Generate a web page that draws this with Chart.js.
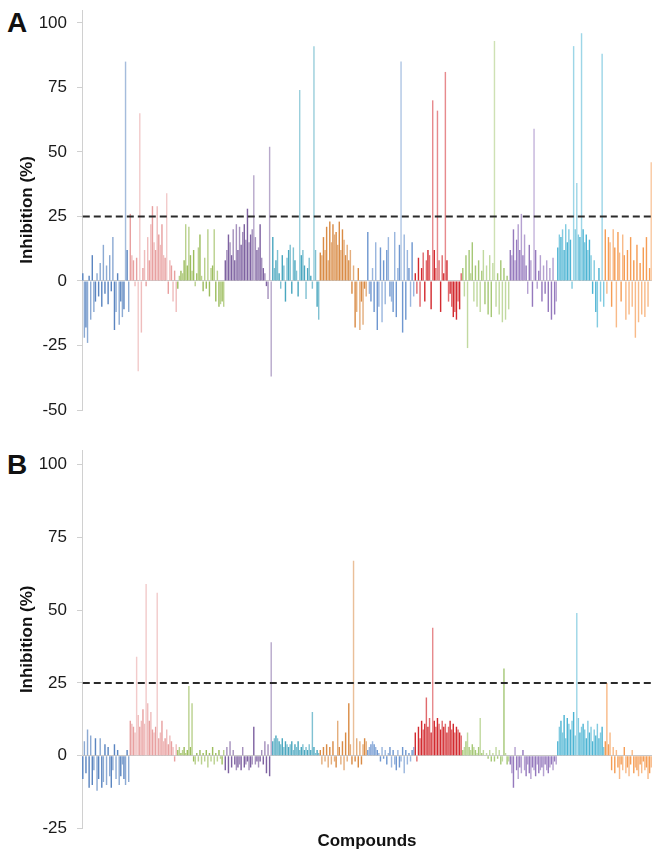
<!DOCTYPE html>
<html><head><meta charset="utf-8">
<script src="https://cdn.jsdelivr.net/npm/chart.js@4/dist/chart.umd.min.js"></script>
<style>
html,body{margin:0;padding:0;background:#fff;width:658px;height:859px;overflow:hidden;font-family:"Liberation Sans",Arial,sans-serif}
.wrap{position:absolute;left:0;width:658px}
.panel{position:absolute;font-weight:bold;font-size:28px;line-height:28px;color:#111;font-family:"Liberation Sans",Arial,sans-serif}
</style></head>
<body>
<div class="panel" style="left:7px;top:9px">A</div>
<div class="panel" style="left:7px;top:451px">B</div>
<div class="wrap" style="top:0;height:420px"><canvas id="chartA" width="658" height="420"></canvas></div>
<div class="wrap" style="top:440px;height:419px"><canvas id="chartB" width="658" height="419"></canvas></div>
<script>
// ---- data ----
const THRESHOLD = 25;
const yTicksA = [-50, -25, 0, 25, 50, 75, 100];
const yTicksB = [-25, 0, 25, 50, 75, 100];
const groupColors = ['#5b85c0','#e8a0a0','#9cbd5e','#7e62a1','#4aa7bf','#d98b45',
                     '#6f97d0','#d32a2f','#a6c877','#9579bd','#4db4d3','#f59d55'];

// Screen A: inhibition (%) per compound, 12 compound groups
const screenA = [
  [3,-22,-18,-24,2,-15,10,-12,-8,3,-6,7,-10,14,-5,6,-9,10,-4,17,-19,-12,3,-17,-8,-14,-11,85,12,-12],
  [26,10,8,-2,9,-35,65,-20,5,12,-2,17,8,22,29,15,12,29,18,14,22,10,9,34,-5,8,6,-8,4,-12],
  [-3,2,4,3,8,22,6,21,10,4,12,-2,3,13,18,2,-4,9,-3,20,-6,5,6,20,-8,4,-10,-9,-8,-10],
  [8,12,18,15,10,20,8,22,12,21,14,19,22,16,28,15,18,20,41,17,12,13,22,9,5,3,-2,-7,52,-37],
  [17,5,8,12,3,-3,10,6,-8,9,12,14,-5,13,8,4,-6,74,10,12,6,-7,5,9,2,-3,91,12,-10,-15],
  [11,10,17,12,21,8,23,15,22,18,19,14,23,12,20,16,10,14,8,12,-5,6,-18,-12,5,-19,-8,-17,-3,-6],
  [19,-5,-8,5,-12,15,-19,-10,13,-16,8,-9,12,17,-6,-8,-12,19,-14,5,14,85,-20,18,-15,12,5,-10,15,-6],
  [3,-5,9,-10,5,11,-8,8,12,10,-11,70,12,5,66,8,-12,10,3,81,8,-8,-5,-10,-14,-12,-15,-8,-11,3],
  [5,-6,10,-26,12,3,15,-8,6,-10,8,-12,4,12,-9,6,-13,10,-14,7,93,-10,3,-13,8,-16,5,-15,2,-11],
  [12,10,20,8,16,22,12,26,10,18,6,-5,14,8,-10,59,12,-3,4,10,-8,6,-5,8,-12,5,-15,9,-13,-8],
  [13,18,17,20,12,22,15,20,16,-3,91,20,38,18,17,96,20,15,18,12,16,10,-5,8,-12,-18,5,-8,88,-10],
  [20,-5,17,15,-10,20,13,-18,19,11,-8,18,10,-15,12,-13,17,-10,8,-22,14,-16,7,-13,13,-14,17,-10,5,46]
];

// Screen B
const screenB = [
  [-8,5,-6,9,-11,7,-10,-5,6,-12,-8,6,-11,-9,4,-10,3,-7,-11,-5,4,-8,2,-10,-7,-3,-8,-10,2,-9],
  [12,11,10,8,34,14,10,12,16,11,59,18,12,15,9,8,10,56,6,8,12,5,6,9,4,7,5,3,-2,4],
  [2,3,1,2,3,1,2,24,3,18,-2,-3,1,-2,2,-3,1,-2,2,-4,1,-2,3,-3,1,-2,2,-1,-3,2],
  [-5,3,-6,5,-4,2,-3,-5,-4,-3,-5,3,-4,-3,-2,-5,-4,-3,10,-3,-2,-4,-2,2,-3,5,-6,4,-7,39],
  [5,6,7,6,5,4,6,3,5,4,3,4,5,2,4,3,5,2,3,4,2,3,2,4,2,15,3,1,2,1],
  [2,-3,3,-2,4,-4,3,-3,5,-2,-4,12,3,-3,5,-5,8,-2,18,4,-3,67,-2,6,-4,5,-3,4,6,5],
  [2,3,4,5,4,3,2,1,-2,3,-1,2,-3,1,3,-4,2,-3,-5,2,-4,-2,3,-6,2,-3,1,-2,2,3],
  [8,-2,10,6,12,9,11,20,10,13,8,44,12,10,13,11,9,12,10,11,8,10,12,9,11,8,10,9,8,7],
  [2,3,5,8,3,2,4,3,2,1,3,13,1,2,0,1,-1,2,-2,1,-2,3,-1,2,-3,-2,30,1,-3,-2],
  [-3,-6,-11,3,-5,-8,-4,-6,2,-5,-7,-3,-6,-8,-4,-5,-7,-3,-6,-5,-4,-7,-3,-5,-6,-4,-3,-5,-2,-3],
  [5,10,12,8,14,6,13,11,9,12,15,7,49,13,8,10,11,9,6,12,8,10,5,9,7,11,6,8,10,3],
  [5,25,4,8,-5,3,-6,2,-4,-8,-3,-5,3,-6,-4,-7,-3,2,-6,-4,-5,-7,-3,-6,-2,-5,-4,-8,-6,-4]
];

// ---- rendering ----
function lighten(hex, f) {
  const n = parseInt(hex.slice(1), 16);
  const r = (n >> 16) & 255, g = (n >> 8) & 255, b = n & 255;
  const m = c => Math.round(c + (255 - c) * f);
  return `rgb(${m(r)},${m(g)},${m(b)})`;
}

function build(canvasId, groups, yMin, yTicks, showXTitle) {
  const values = [], colors = [], labels = [];
  groups.forEach((g, gi) => g.forEach((v, j) => {
    values.push(v);
    labels.push('Compound ' + (labels.length + 1));
    let f = j % 2 === 0 ? 0 : 0.3;
    if (Math.abs(v) > 30) f = 0.45;
    colors.push(f === 0 ? groupColors[gi] : lighten(groupColors[gi], f));
  }));
  const tickFont = {family: '"Liberation Sans", Arial, sans-serif', size: 17};
  const titleFont = {family: '"Liberation Sans", Arial, sans-serif', size: 17, weight: 'bold'};
  return new Chart(document.getElementById(canvasId), {
    type: 'bar',
    data: {
      labels,
      datasets: [
        {type: 'line', data: labels.map(() => THRESHOLD), borderColor: '#2a2a2a', borderWidth: 2,
         borderDash: [7, 4], pointRadius: 0, fill: false, order: 0},
        {type: 'bar', data: values, backgroundColor: colors, borderWidth: 0,
         barPercentage: 0.9, categoryPercentage: 1.0, order: 1}
      ]
    },
    options: {
      responsive: false, animation: false, devicePixelRatio: 1,
      layout: {padding: {left: 0, right: 6, top: 10, bottom: showXTitle ? 4 : 10}},
      plugins: {legend: {display: false}, tooltip: {enabled: false}},
      scales: {
        x: {
          display: showXTitle,
          afterFit: s => { s.paddingLeft = 0; s.paddingRight = 0; },
          ticks: {display: false},
          grid: {display: false, drawTicks: false},
          border: {display: false},
          title: {display: showXTitle, text: 'Compounds', color: '#111', font: titleFont, padding: {top: 3, bottom: 3}}
        },
        y: {
          min: yMin, max: 105,
          afterFit: s => { s.width = 82; s.paddingTop = 0; s.paddingBottom = 0; },
          afterBuildTicks: s => { s.ticks = yTicks.map(v => ({value: v})); },
          ticks: {color: '#1a1a1a', font: tickFont, padding: 10},
          grid: {display: true, drawOnChartArea: true, drawTicks: true, tickLength: 5,
                 tickColor: '#d0d0d0', lineWidth: 1,
                 color: c => (c.tick && c.tick.value === 0) ? '#c8c8c8' : 'rgba(0,0,0,0)'},
          border: {display: true, color: '#d0d0d0', width: 1},
          title: {display: true, text: 'Inhibition (%)', color: '#111', font: titleFont, padding: {top: 17, bottom: 0}}
        }
      }
    }
  });
}

build('chartA', screenA, -50, yTicksA, false);
build('chartB', screenB, -25, yTicksB, true);
</script>
</body></html>
